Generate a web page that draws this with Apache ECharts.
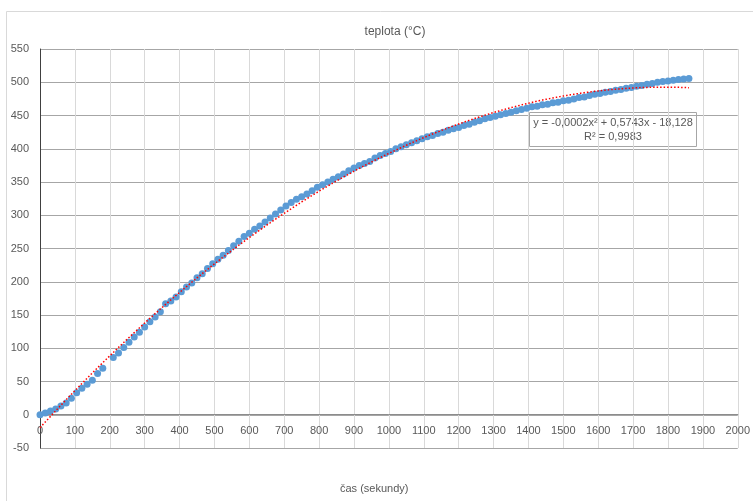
<!DOCTYPE html>
<html>
<head>
<meta charset="utf-8">
<script src="https://cdn.jsdelivr.net/npm/echarts@6/dist/echarts.min.js"></script>
<style>html,body{margin:0;padding:0;background:#fff;}#c{width:753px;height:501px;}</style>
</head>
<body>
<div id="c"></div>
<script>
var chartTitle = 'teplota (°C)';
var xAxisTitle = 'čas (sekundy)';
var equationText = 'y = -0,0002x² + 0,5743x - 18,128';
var r2Text = 'R² = 0,9983';

var times = [0,15,30,45,60,75,90,105,120,135,150,165,180,
  210,225,240,255,270,285,300,315,330,345,360,375,390,405,420,435,450,465,480,495,
  510,525,540,555,570,585,600,615,630,645,660,675,690,705,720,735,750,765,780,795,
  810,825,840,855,870,885,900,915,930,945,960,975,990,1005,1020,1035,1050,1065,1080,1095,
  1110,1125,1140,1155,1170,1185,1200,1215,1230,1245,1260,1275,1290,1305,1320,1335,1350,1365,
  1380,1395,1410,1425,1440,1455,1470,1485,1500,1515,1530,1545,1560,1575,1590,1605,1620,1635,
  1650,1665,1680,1695,1710,1725,1740,1755,1770,1785,1800,1815,1830,1845,1860];

var temps = [0,2.5,5.5,8.5,13,17.5,25,33,40,46,52,62,70,
  86,93,101,109,117,124,132,140,147,155,167,171,177,185,192,198,206,212,220,227,
  234,240,247,254,261,268,273,279,284,290,296,302,308,314,319,324,328,332,337,342,
  346,350,354,358,362,367,371,375,378,381,386,390,393,396,400,403,406,409,412,415,
  418,420,423,425,428,430,432,435,437,440,442,445,447,449,451,453,455,457,
  459,461,463,464,466,467,469,470,472,473,475,477,478,480,482,483,485,486,
  488,489,491,492,494,495,497,498,500,501,502,503,504,505,505.5];

var xTicks = {min: 0, max: 2000, step: 100};
var yTicks = {min: -50, max: 550, step: 50};

// quadratic least-squares trendline computed from the data
function quadFit(xs, ys) {
  var n = xs.length, S = [0,0,0,0,0], T = [0,0,0];
  for (var i = 0; i < n; i++) {
    var x = xs[i], y = ys[i], p = 1;
    for (var k = 0; k < 5; k++) { S[k] += p; if (k < 3) T[k] += p * y; p *= x; }
  }
  var A = [[S[0],S[1],S[2],T[0]],[S[1],S[2],S[3],T[1]],[S[2],S[3],S[4],T[2]]];
  for (var c = 0; c < 3; c++) {
    for (var r = c + 1; r < 3; r++) {
      var f = A[r][c] / A[c][c];
      for (var j = c; j < 4; j++) A[r][j] -= f * A[c][j];
    }
  }
  var sol = [0,0,0];
  for (var r2 = 2; r2 >= 0; r2--) {
    var s = A[r2][3];
    for (var j2 = r2 + 1; j2 < 3; j2++) s -= A[r2][j2] * sol[j2];
    sol[r2] = s / A[r2][r2];
  }
  return sol;
}
var coef = quadFit(times, temps);
var trend = [];
var tEnd = times[times.length - 1];
for (var t = 0; t <= tEnd; t += 10) {
  trend.push([t, coef[0] + coef[1] * t + coef[2] * t * t]);
}
trend.push([tEnd, coef[0] + coef[1] * tEnd + coef[2] * tEnd * tEnd]);

var pts = times.map(function (t, i) { return [t, temps[i]]; });

var FONT = 'Liberation Sans';
var chart = echarts.init(document.getElementById('c'), null, {renderer: 'canvas'});
chart.setOption({
  animation: false,
  backgroundColor: '#ffffff',
  grid: {left: 40, right: 12, top: 49, bottom: 53, containLabel: false},
  title: {
    text: chartTitle, left: 390, top: 21, textAlign: 'center',
    textStyle: {fontFamily: FONT, fontSize: 12, fontWeight: 'normal', color: '#595959'}
  },
  xAxis: [{
    type: 'value', min: xTicks.min, max: xTicks.max, interval: xTicks.step,
    position: 'bottom', offset: -33.3,
    axisLine: {show: true, onZero: false, lineStyle: {color: '#8c8c8c', width: 1}},
    axisTick: {show: false},
    axisLabel: {fontFamily: FONT, fontSize: 11, color: '#595959', margin: 11,
      showMinLabel: true, showMaxLabel: true,
      formatter: function (v) { return String(v); }},
    splitLine: {show: true, lineStyle: {color: '#d9d9d9', width: 1}}
  }],
  yAxis: {
    type: 'value', min: yTicks.min, max: yTicks.max, interval: yTicks.step,
    axisLine: {show: true, onZero: false, lineStyle: {color: '#404040', width: 1}},
    axisTick: {show: false},
    axisLabel: {fontFamily: FONT, fontSize: 11, color: '#595959', margin: 11,
      formatter: function (v) { return String(v); }},
    splitLine: {show: true, lineStyle: {color: '#a6a6a6', width: 1}}
  },
  series: [
    {
      type: 'scatter', data: pts, symbol: 'circle', symbolSize: 7,
      itemStyle: {color: '#5b9bd5', opacity: 1}, z: 2
    },
    {
      type: 'line', data: trend, showSymbol: false, symbol: 'none', smooth: false,
      lineStyle: {color: '#ff0000', width: 1.5, type: [1.5, 2]}, z: 3
    }
  ],
  graphic: [
    {
      type: 'rect', silent: true, z: -10,
      shape: {x: 6.5, y: 11.5, width: 800, height: 600},
      style: {fill: 'none', stroke: '#d9d9d9', lineWidth: 1}
    },
    {
      type: 'text', left: 340, top: 483,
      style: {text: xAxisTitle, font: '11px "Liberation Sans"', fill: '#595959', textAlign: 'left'}
    },
    {
      type: 'group', left: 529, top: 112, z: 10,
      children: [
        {type: 'rect', shape: {x: 0.5, y: 0.5, width: 167, height: 34}, style: {fill: '#ffffff', stroke: '#a6a6a6', lineWidth: 1}},
        {type: 'text', style: {x: 84, y: 11, text: equationText, font: '11px "Liberation Sans"', fill: '#595959', textAlign: 'center', textVerticalAlign: 'middle'}},
        {type: 'text', style: {x: 84, y: 25, text: r2Text, font: '11px "Liberation Sans"', fill: '#595959', textAlign: 'center', textVerticalAlign: 'middle'}}
      ]
    }
  ]
});
</script>
</body>
</html>
